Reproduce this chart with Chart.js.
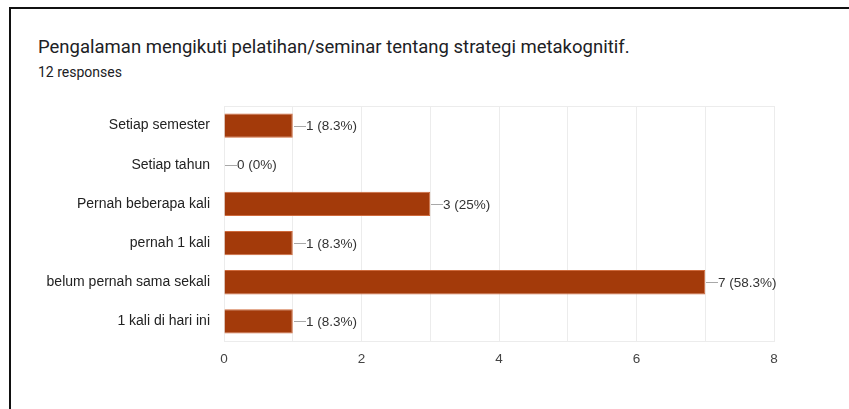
<html>
<head>
<script src="https://cdn.jsdelivr.net/npm/chart.js@4.4.0/dist/chart.umd.min.js"></script>
<style>
body { margin:0; background:#ffffff; width:849px; height:409px; overflow:hidden; position:relative; }
.frame {
    position:absolute; left:9px; top:7px; width:900px; height:420px;
    border-left:2px solid #111; border-top:2px solid #111;
}
.title {
    position:absolute; left:38px; top:36px;
    font-family:Roboto, Arial, sans-serif; font-size:18.5px; color:#202124;
}
.sub {
    position:absolute; left:38px; top:64px;
    font-family:Roboto, Arial, sans-serif; font-size:14px; color:#202124;
}
#bars { position:absolute; left:0; top:0; }
</style>
</head>
<body>
<div class="frame"></div>
<div class="title">Pengalaman mengikuti pelatihan/seminar tentang strategi metakognitif.</div>
<div class="sub">12 responses</div>
<canvas id="bars" width="849" height="409"></canvas>
<script>
var answers = ["Setiap semester", "Setiap tahun", "Pernah beberapa kali", "pernah 1 kali", "belum pernah sama sekali", "1 kali di hari ini"];
var counts = [1, 0, 3, 1, 7, 1];
var totalResponses = 12;
var xTicks = [0, 2, 4, 6, 8];

function pct(v) {
  var p = Math.round(v / totalResponses * 1000) / 10;
  return (p % 1 == 0 ? p.toFixed(0) : p.toFixed(1)) + "%";
}

// light box round the plot area
var plotBox = {
  id: 'plotBox',
  beforeDatasetsDraw: function(chart) {
    var a = chart.chartArea, c = chart.ctx;
    c.save();
    c.strokeStyle = '#ececec';
    c.lineWidth = 1;
    c.strokeRect(a.left + 0.5, a.top + 0.5, a.right - a.left, a.bottom - a.top);
    c.restore();
  }
};

// value labels with a short leader line
var valueLabels = {
  id: 'valueLabels',
  afterDatasetsDraw: function(chart) {
    var c = chart.ctx;
    var meta = chart.getDatasetMeta(0);
    c.save();
    c.font = '13.5px "Liberation Sans", Arial, sans-serif';
    c.textBaseline = 'middle';
    c.textAlign = 'left';
    meta.data.forEach(function(bar, i) {
      var x = Math.round(bar.x) + 1;
      c.strokeStyle = '#a8a8a8';
      c.lineWidth = 1;
      c.beginPath();
      c.moveTo(x, Math.round(bar.y) + 0.5);
      c.lineTo(x + 12, Math.round(bar.y) + 0.5);
      c.stroke();
      c.fillStyle = '#333333';
      c.fillText(counts[i] + ' (' + pct(counts[i]) + ')', x + 12, bar.y + 1);
    });
    c.restore();
  }
};

new Chart(document.getElementById('bars'), {
  type: 'bar',
  data: {
    labels: answers,
    datasets: [{
      data: counts,
      backgroundColor: '#a33a0a',
      borderColor: '#cf6a3c',
      borderWidth: 1,
      borderSkipped: 'left',
      barPercentage: 0.62,
      categoryPercentage: 1
    }]
  },
  options: {
    indexAxis: 'y',
    responsive: false,
    animation: false,
    layout: { padding: { left: 0, right: 75, top: 106, bottom: 0 } },
    plugins: { legend: { display: false }, tooltip: { enabled: false } },
    scales: {
      x: {
        min: 0, max: 8,
        afterFit: function(s) { s.height = 68; },
        afterBuildTicks: function(s) {
          s.ticks = [0,1,2,3,4,5,6,7,8].map(function(v) { return { value: v }; });
        },
        ticks: {
          padding: 10,
          color: '#444444',
          font: { family: '"Liberation Sans", Arial, sans-serif', size: 13.5 },
          callback: function(v) { return xTicks.indexOf(v) >= 0 ? String(v) : ''; }
        },
        grid: { color: '#ececec', drawTicks: false },
        border: { display: false }
      },
      y: {
        afterFit: function(s) { s.width = 224; },
        ticks: {
          padding: 14,
          color: '#222222',
          font: { family: '"Liberation Sans", Arial, sans-serif', size: 14 }
        },
        grid: { display: false, drawTicks: false },
        border: { display: true, color: '#777777', width: 1 }
      }
    }
  },
  plugins: [plotBox, valueLabels]
});
</script>
</body>
</html>
